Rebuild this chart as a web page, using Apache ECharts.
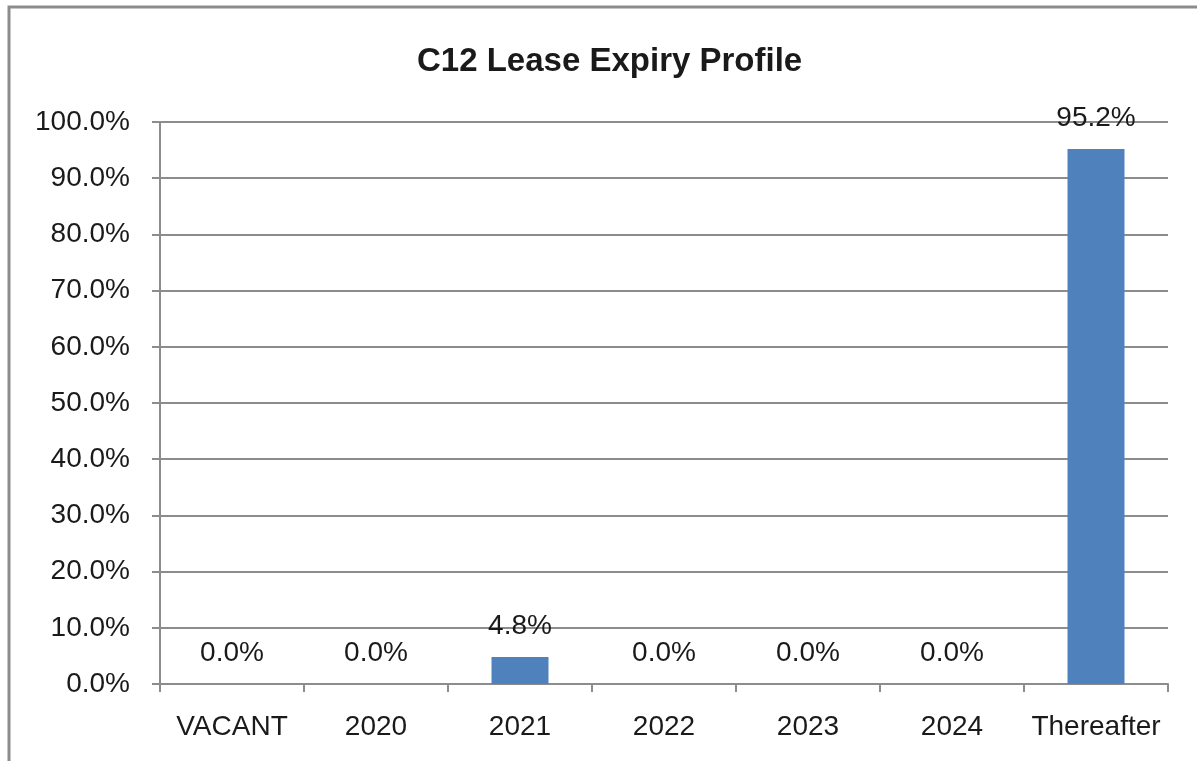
<!DOCTYPE html>
<html>
<head>
<meta charset="utf-8">
<title>C12 Lease Expiry Profile</title>
<script src="https://cdn.jsdelivr.net/npm/echarts@6/dist/echarts.min.js"></script>
<style>
  html, body { margin: 0; padding: 0; background: #fff; }
  #main { width: 1197px; height: 761px; }
</style>
</head>
<body>
<div id="main"></div>
<script type="text/javascript">
var categories = ['VACANT', '2020', '2021', '2022', '2023', '2024', 'Thereafter'];
var expiryPct = [0.0, 0.0, 4.8, 0.0, 0.0, 0.0, 95.2];
var chartTitle = 'C12 Lease Expiry Profile';

var myChart = echarts.init(document.getElementById('main'));
var font = '"Liberation Sans", Arial, sans-serif';
var grey = '#8c8c8c';

var option = {
  animation: false,
  textStyle: { fontFamily: font },
  title: {
    text: chartTitle,
    left: 412,
    top: 40,
    textStyle: { fontFamily: font, fontSize: 33, fontWeight: 'bold', color: '#1a1a1a' }
  },
  graphic: [{
    type: 'rect',
    shape: { x: 9, y: 7, width: 1220, height: 780 },
    style: { fill: 'none', stroke: grey, lineWidth: 3 },
    silent: true
  }],
  grid: { left: 160, right: 29, top: 122, bottom: 77 },
  xAxis: {
    type: 'category',
    data: categories,
    axisLine: { lineStyle: { color: grey, width: 2 } },
    axisTick: { show: true, length: 8, lineStyle: { color: grey, width: 2 } },
    axisLabel: { interval: 0, color: '#1a1a1a', fontSize: 28, margin: 29, fontFamily: font }
  },
  yAxis: {
    type: 'value',
    min: 0,
    max: 100,
    interval: 10,
    axisLine: { show: true, lineStyle: { color: grey, width: 2 } },
    axisTick: { show: true, length: 8, lineStyle: { color: grey, width: 2 } },
    splitLine: { lineStyle: { color: grey, width: 2 } },
    axisLabel: {
      color: '#1a1a1a', fontSize: 28, margin: 30, fontFamily: font,
      formatter: function (v) { return v.toFixed(1) + '%'; }
    }
  },
  series: [{
    type: 'bar',
    data: expiryPct,
    barWidth: 57,
    itemStyle: { color: '#4f81bd' },
    label: {
      show: true,
      position: 'top',
      distance: 17,
      color: '#1a1a1a',
      fontSize: 28,
      fontFamily: font,
      formatter: function (p) { return p.value.toFixed(1) + '%'; }
    }
  }]
};

myChart.setOption(option);
</script>
</body>
</html>
